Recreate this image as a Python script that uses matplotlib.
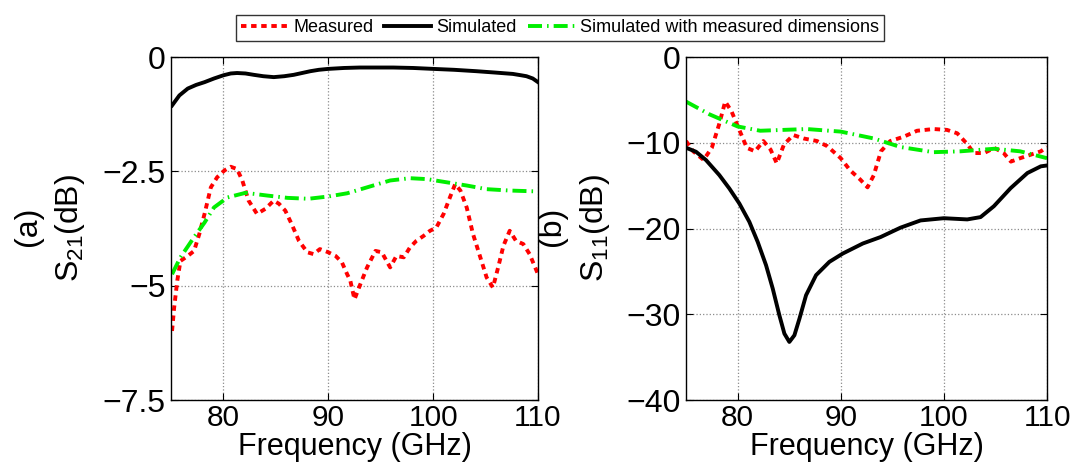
import matplotlib
matplotlib.use("Agg")
import matplotlib.pyplot as plt
import numpy as np

plt.rcParams['font.family'] = ['Liberation Sans', 'DejaVu Sans']
plt.rcParams['mathtext.fontset'] = 'custom'
plt.rcParams['mathtext.rm'] = 'Liberation Sans'
plt.rcParams['mathtext.it'] = 'Liberation Sans:italic'
plt.rcParams['axes.unicode_minus'] = True

# ---- (a) S21 data ----
s21_sim_f = [75.1, 75.8, 76.6, 77.4, 78.2, 79.1, 80.0, 80.7, 81.3, 82.1, 82.9, 83.8, 84.8, 85.8, 86.7, 87.5, 88.3, 89.1,
             90.0, 91.5, 93.0, 94.6, 96.2, 98.1, 100.0, 102.0, 104.1, 105.9, 107.6, 108.4, 108.9, 109.5, 110.0]
s21_sim = [-1.06, -0.84, -0.69, -0.61, -0.55, -0.47, -0.40, -0.36, -0.35, -0.36, -0.39, -0.42, -0.44, -0.42, -0.39, -0.35, -0.31, -0.28,
           -0.26, -0.24, -0.23, -0.23, -0.23, -0.24, -0.26, -0.28, -0.31, -0.34, -0.37, -0.40, -0.42, -0.47, -0.55]

s21_msd_f = [75.1, 75.9, 77.2, 78.2, 79.1, 80.4, 82.1, 84.2, 86.1, 88.1, 90.0, 91.8, 93.7, 95.9, 97.8, 99.4, 101.3, 103.2, 105.1, 107.3, 110.0]
s21_msd = [-4.75, -4.38, -3.94, -3.62, -3.29, -3.07, -2.97, -3.03, -3.08, -3.10, -3.05, -2.98, -2.85, -2.70, -2.65, -2.67, -2.74, -2.81, -2.89, -2.92, -2.94]

s21_meas_f = [75.1, 75.3, 75.6, 75.9, 76.6, 77.2, 77.7, 78.2, 78.8, 79.4, 80.1, 80.7, 81.3, 81.8, 82.4, 83.2,
              84.0, 84.8, 85.3, 85.9, 86.5, 87.2, 88.0, 88.6, 89.2, 90.0, 90.7, 91.3, 91.8, 92.1, 92.5, 93.0,
              93.7, 94.5, 95.1, 95.9, 96.5, 97.2, 97.8, 98.4, 99.1, 99.7, 100.3, 101.0, 101.6, 102.1, 102.6,
              103.2, 103.8, 104.5, 105.1, 105.7, 106.2, 106.7, 107.3, 107.9, 108.6, 109.2, 110.0]
s21_meas = [-5.99, -5.48, -4.89, -4.46, -4.35, -4.24, -3.87, -3.43, -2.85, -2.63, -2.48, -2.40, -2.45, -2.70, -3.14, -3.43,
            -3.32, -3.14, -3.21, -3.36, -3.65, -4.02, -4.27, -4.31, -4.20, -4.27, -4.35, -4.49, -4.75, -4.89, -5.30, -5.00,
            -4.60, -4.24, -4.27, -4.60, -4.35, -4.38, -4.16, -4.02, -3.91, -3.80, -3.73, -3.43, -3.07, -2.78, -2.92,
            -3.29, -3.87, -4.38, -4.82, -5.04, -4.60, -4.13, -3.80, -4.02, -4.09, -4.31, -4.75]

# ---- (b) S11 data ----
s11_sim_f = [75.0, 75.97, 76.94, 78.23, 79.2, 80.17, 81.14, 81.95, 82.76, 83.41, 84.05, 84.54, 85.02, 85.51, 86.0,
             86.64, 87.61, 88.9, 90.2, 92.14, 93.86, 95.8, 97.74, 100.0, 102.27, 103.56, 104.85, 106.47, 108.1, 109.4, 110.0]
s11_sim = [-10.58, -11.05, -12.02, -13.77, -15.33, -17.08, -19.22, -21.56, -24.28, -27.01, -30.11, -32.26, -33.23, -32.45, -30.51,
           -27.78, -25.44, -23.89, -22.92, -21.75, -21.0, -19.9, -19.06, -18.8, -18.94, -18.67, -17.4, -15.3, -13.53, -12.75, -12.65]

s11_msd_f = [75.0, 77.3, 80.0, 82.2, 86.7, 90.0, 93.2, 95.8, 99.0, 101.6, 104.9, 107.4, 110.0]
s11_msd = [-5.2, -6.7, -8.1, -8.6, -8.4, -8.7, -9.5, -10.5, -11.1, -11.0, -10.7, -11.0, -11.8]

s11_meas_f = [75.0, 75.7, 76.7, 77.5, 78.2, 78.8, 79.4, 80.1, 80.9, 81.7, 82.5, 83.2, 83.8, 84.5, 85.4, 86.4, 87.7,
              88.7, 90.0, 90.9, 91.9, 92.6, 93.2, 93.9, 94.8, 96.1, 97.4, 99.0, 100.3, 101.3, 102.3, 102.9,
              103.9, 104.9, 105.8, 106.5, 107.4, 108.4, 109.4, 110.0]
s11_meas = [-9.8, -11.0, -12.0, -10.6, -7.9, -5.2, -6.3, -8.3, -10.6, -11.0, -9.8, -10.8, -12.4, -10.2, -9.1, -9.5, -9.8,
            -10.4, -11.8, -13.2, -14.3, -15.2, -13.8, -11.0, -9.8, -9.3, -8.6, -8.4, -8.5, -8.9, -10.2, -11.2,
            -11.2, -10.6, -11.2, -12.2, -11.8, -11.4, -11.0, -10.5]

left_yticks = [0, -2.5, -5, -7.5]
left_yticklabels = ['0', '\u22122.5', '\u22125', '\u22127.5']
right_yticks = [0, -10, -20, -30, -40]
right_yticklabels = ['0', '\u221210', '\u221220', '\u221230', '\u221240']
xticks = [80, 90, 100, 110]

W, H = 1079, 471
fig = plt.figure(figsize=(W / 100, H / 100), dpi=100)

ax1 = fig.add_axes([171 / W, 1 - 400 / H, 367 / W, 343 / H])
ax2 = fig.add_axes([686 / W, 1 - 400 / H, 361 / W, 343 / H])

red_ls = (0, (1.4, 1.2))
green_ls = (0, (3.6, 1.3, 0.4, 1.3))
lw = 2.8

l1, = ax1.plot(s21_meas_f, s21_meas, color='#ff0000', lw=lw, ls=red_ls, label='Measured')
l2, = ax1.plot(s21_sim_f, s21_sim, color='black', lw=lw, ls='-', label='Simulated')
l3, = ax1.plot(s21_msd_f, s21_msd, color='#00ee00', lw=lw, ls=green_ls, label='Simulated with measured dimensions')

ax2.plot(s11_meas_f, s11_meas, color='#ff0000', lw=lw, ls=red_ls)
ax2.plot(s11_sim_f, s11_sim, color='black', lw=lw, ls='-')
ax2.plot(s11_msd_f, s11_msd, color='#00ee00', lw=lw, ls=green_ls)

fs = 23
for ax, yt, ytl, ylim, lab, tag, labx, tagx in [
        (ax1, left_yticks, left_yticklabels, (-7.5, 0), r'S$_{21}$(dB)', '(a)', -0.229, -0.39),
        (ax2, right_yticks, right_yticklabels, (-40, 0), r'S$_{11}$(dB)', '(b)', -0.205, -0.371)]:
    ax.set_xlim(75, 110)
    ax.set_ylim(*ylim)
    ax.set_xticks(xticks)
    ax.set_xticklabels([str(v) for v in xticks], fontsize=21.5)
    ax.set_yticks(yt)
    ax.set_yticklabels(ytl, fontsize=fs)
    ax.tick_params(direction='in', length=5, width=0.8, top=True, right=True, pad=4)
    ax.tick_params(axis='x', pad=3)
    ax.grid(True, color='0.55', ls=':', lw=0.9)
    for s in ax.spines.values():
        s.set_linewidth(1.0)
    ax.set_xlabel('Frequency (GHz)', fontsize=22, labelpad=0)
    ax.set_ylabel(lab, fontsize=fs)
    ax.yaxis.set_label_coords(labx, 0.5)
    ax.text(tagx, 0.505, tag, transform=ax.transAxes, rotation=90, fontsize=fs,
            ha='center', va='center')

leg = fig.legend(handles=[l1, l2, l3], loc='center', bbox_to_anchor=(560 / W, 1 - 28 / H),
                 ncol=3, fontsize=13, frameon=True, fancybox=False, edgecolor='black',
                 handlelength=2.6, handletextpad=0.3, columnspacing=0.6, borderpad=0.25,
                 borderaxespad=0)
leg.get_frame().set_linewidth(1.0)

fig.savefig('out.png', dpi=100)
